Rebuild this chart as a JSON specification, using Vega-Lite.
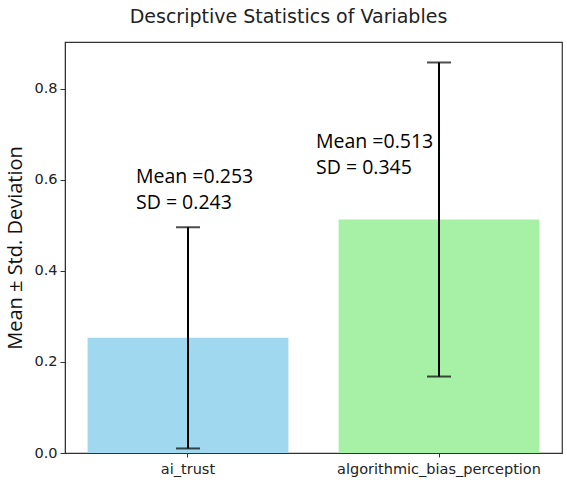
{
  "$schema": "https://vega.github.io/schema/vega-lite/v6.json",
  "width": 497,
  "height": 411,
  "autosize": {"type": "none"},
  "padding": {"left": 65, "top": 42, "right": 5, "bottom": 31},
  "background": "white",
  "title": {
    "text": "Descriptive Statistics of Variables",
    "font": "DejaVu Sans",
    "fontSize": 19,
    "fontWeight": "normal",
    "color": "#222222",
    "offset": 15,
    "dx": -25
  },
  "config": {
    "view": {"stroke": "#333333", "strokeWidth": 1.2},
    "axis": {
      "labelFont": "DejaVu Sans",
      "labelFontSize": 14.5,
      "labelColor": "#222222",
      "labelLimit": 400,
      "tickColor": "#333333",
      "domainColor": "#333333",
      "grid": false
    }
  },
  "data": {
    "values": [
      {"variable": "ai_trust", "mean": 0.253, "sd": 0.243},
      {"variable": "algorithmic_bias_perception", "mean": 0.513, "sd": 0.345}
    ]
  },
  "transform": [
    {"calculate": "datum.mean - datum.sd", "as": "lo"},
    {"calculate": "datum.mean + datum.sd", "as": "hi"},
    {"calculate": "['Mean =' + format(datum.mean, '.3f'), 'SD = ' + format(datum.sd, '.3f')]", "as": "label"}
  ],
  "encoding": {
    "x": {
      "field": "variable",
      "type": "nominal",
      "sort": null,
      "scale": {"paddingInner": 0.2, "paddingOuter": 0.09},
      "axis": {"title": null, "labelAngle": 0, "labelPadding": 5, "tickSize": 4}
    }
  },
  "layer": [
    {
      "mark": {"type": "bar"},
      "encoding": {
        "y": {
          "field": "mean",
          "type": "quantitative",
          "scale": {"domain": [0, 0.903], "nice": false},
          "axis": {
            "values": [0, 0.2, 0.4, 0.6, 0.8],
            "format": ".1f",
            "title": "Mean ± Std. Deviation",
            "titleFont": "Open Sans",
            "titleFontSize": 20,
            "titleFontWeight": "normal",
            "titleColor": "#111111",
            "titlePadding": 8,
            "tickSize": 5,
            "labelPadding": 3
          }
        },
        "color": {
          "field": "variable",
          "type": "nominal",
          "scale": {"range": ["#9fd8ef", "#a6f1a6"]},
          "legend": null
        }
      }
    },
    {
      "mark": {"type": "rule", "color": "black", "strokeWidth": 2},
      "encoding": {
        "y": {"field": "lo", "type": "quantitative"},
        "y2": {"field": "hi"}
      }
    },
    {
      "mark": {"type": "tick", "color": "black", "thickness": 2, "size": 24},
      "encoding": {"y": {"field": "lo", "type": "quantitative"}}
    },
    {
      "mark": {"type": "tick", "color": "black", "thickness": 2, "size": 24},
      "encoding": {"y": {"field": "hi", "type": "quantitative"}}
    },
    {
      "transform": [{"filter": "datum.variable == 'ai_trust'"}],
      "mark": {
        "type": "text",
        "font": "Open Sans",
        "fontSize": 19.5,
        "align": "left",
        "baseline": "middle",
        "lineHeight": 26,
        "color": "black",
        "dx": -52,
        "dy": -50
      },
      "encoding": {
        "y": {"field": "hi", "type": "quantitative"},
        "text": {"field": "label"}
      }
    },
    {
      "transform": [{"filter": "datum.variable == 'algorithmic_bias_perception'"}],
      "mark": {
        "type": "text",
        "font": "Open Sans",
        "fontSize": 19.5,
        "align": "left",
        "baseline": "middle",
        "lineHeight": 26,
        "color": "black",
        "dx": -123,
        "dy": 80
      },
      "encoding": {
        "y": {"field": "hi", "type": "quantitative"},
        "text": {"field": "label"}
      }
    }
  ]
}
